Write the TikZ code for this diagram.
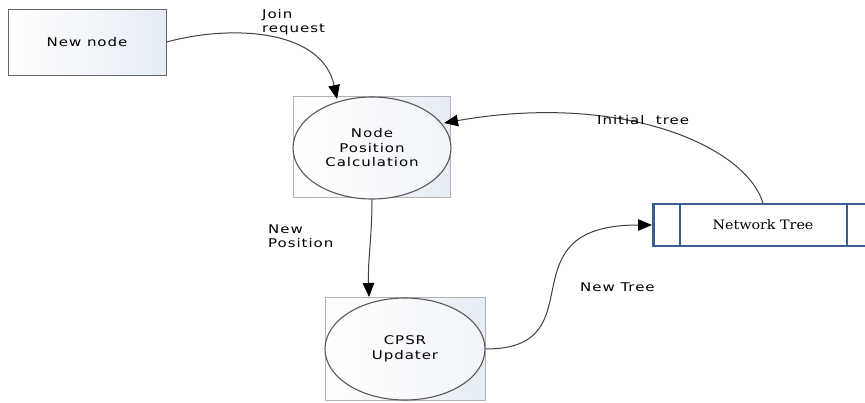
\documentclass[tikz,border=0pt]{standalone}
\usepackage{fontspec}
\setmainfont{DejaVu Sans}[FakeStretch=1.25,LetterSpace=8]
\newfontfamily\ntfont{DejaVu Serif}[FakeStretch=1.1]
\usetikzlibrary{shapes.geometric,arrows.meta}
\definecolor{pale}{RGB}{230,236,245}
\definecolor{ntblue}{RGB}{58,94,143}
\tikzset{
  procbox/.style={draw=black!60,line width=1pt,left color=white,right color=pale,inner sep=0pt},
  squarebox/.style={draw=black!30,line width=0.8pt,left color=white,right color=pale,inner sep=0pt},
  procell/.style={ellipse,draw=black!65,line width=1.1pt,left color=white,right color=pale!60,inner sep=0pt,align=center,font=\fontsize{12}{14.5}\selectfont},
  flow/.style={draw=black!75,line width=1pt,-{Triangle[length=14pt,width=11.5pt,color=black]}},
  lbl/.style={align=left,inner sep=0pt,anchor=north west,font=\fontsize{12}{14}\selectfont},
}
\begin{document}
\begin{tikzpicture}[x=1pt,y=-1pt]
\useasboundingbox (0,0) rectangle (865,402);
\clip (0,0) rectangle (865,402);
% New node
\node[procbox,minimum width=158pt,minimum height=66pt,font=\fontsize{12}{14}\selectfont] (newnode) at (87,42) {New node};
% Node Position Calculation
\node[squarebox,minimum width=157pt,minimum height=101pt] (npcbox) at (371.5,146.5) {};
\node[procell,minimum width=158pt,minimum height=102pt] (npc) at (372,148) {Node\\Position\\Calculation};
% CPSR Updater
\node[squarebox,minimum width=160pt,minimum height=103pt] (cpsrbox) at (405,348.5) {};
\node[procell,minimum width=160pt,minimum height=102pt] (cpsr) at (405,349) {CPSR\\Updater};
% Network Tree store
\node[draw=ntblue,line width=2.5pt,fill=white,minimum width=230pt,minimum height=42pt,anchor=west,inner sep=0pt] (nt) at (652,225) {};
\draw[ntblue,line width=2.5pt] (nt.north west) ++(28,0) coordinate (ntl1) -- (ntl1 |- nt.south);
\draw[ntblue,line width=2.5pt] (nt.north west) ++(195,0) coordinate (ntl2) -- (ntl2 |- nt.south);
\node[font=\ntfont\fontsize{13}{14}\selectfont,inner sep=0pt] (nttext) at (763,225) {Network Tree};
% connectors
\coordinate (jointip) at (337,99);
\draw[flow] (newnode.east) to[out=15,in=102] (jointip);
\coordinate (postip) at (369,297);
\draw[flow] (npc.south) to[out=-90,in=92] (postip);
\draw[flow] (cpsr.east) .. controls (600,349) and (500,225) .. (nt.west);
\coordinate (ntsrc) at (763,203);
\coordinate (inittip) at (444,123);
\draw[flow] (ntsrc) .. controls (745,145) and (620,92) .. (inittip);
% labels
\node[lbl] (l1) at (262,9) {Join\\request};
\node[lbl] (l2) at (268,225) {New\\Position};
\node[lbl] (l3) at (580,283) {New Tree};
\node[lbl] (l4) at (597,115) {Initial\ \ tree};
\end{tikzpicture}
\end{document}
